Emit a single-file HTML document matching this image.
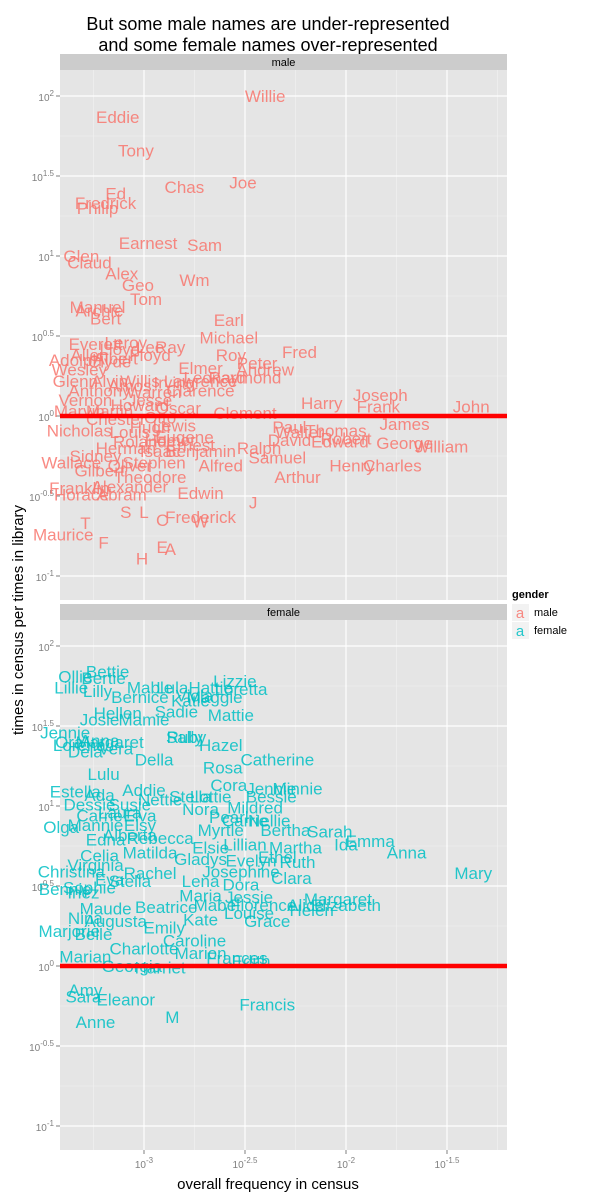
<!DOCTYPE html>
<html><head><meta charset="utf-8"><style>
body{margin:0;background:#fff}
svg{display:block;font-family:"Liberation Sans",sans-serif}
</style></head><body>
<svg id="c" width="600" height="1200">
<text x="268" y="30" text-anchor="middle" font-size="18">But some male names are under-represented</text>
<text x="268" y="51" text-anchor="middle" font-size="18">and some female names over-represented</text>
<text x="268" y="1189" text-anchor="middle" font-size="15">overall frequency in census</text>
<text transform="translate(23,620) rotate(-90)" text-anchor="middle" font-size="15">times in census per times in library</text>
<g>
<text x="512" y="598" font-size="11" font-weight="bold">gender</text>
<rect x="512" y="604" width="17" height="17" fill="#f2f2f2"/>
<text x="520" y="618" text-anchor="middle" font-size="15" fill="#F8766D" fill-opacity="0.85">a</text>
<text x="534" y="616" font-size="11">male</text>
<rect x="512" y="622" width="17" height="17" fill="#f2f2f2"/>
<text x="520" y="636" text-anchor="middle" font-size="15" fill="#00BFC4" fill-opacity="0.85">a</text>
<text x="534" y="634" font-size="11">female</text>
</g>
</svg>
<script>
const xTicks=[-3,-2.5,-2,-1.5];
const yTicks=[2,1.5,1,0.5,0,-0.5,-1];
const maleNames=["Willie","Eddie","Tony","Chas","Joe","Ed","Fredrick","Philip","Earnest","Sam","Glen","Claud","Alex","Geo","Wm","Tom","Manuel","Archie","Bert","Earl","Michael","Fred","Roy","Peter","Andrew","Raymond","Clarence","Wesley","Glenn","Harry","Joseph","Frank","John","Oscar","Thomas","James","Robert","George","Edward","William","Henry","Charles","David","Samuel","Arthur","Benjamin","Theodore","Alexander","Edwin","J","S","L","Frederick","C","W","T","Maurice","F","E","A","H","Franklin","Horace","Abram","Wallace","Gilbert","Oliver","Stephen","Ernest","Alfred","Sidney","Nicholas","Walter","Paul","Lewis","Eugene","Ralph","Vernon","Marvin","Martin","Howard","Jesse","Anthony","Alvin","Amos","Warren","Leonard","Elmer","Floyd","Lloyd","Leroy","Allen","Adolph","Albert","Ray","Lee","Clyde","Everett","Willis","Irving","Chester","Otto","Louis","Hugh","Roland","Herman","Isaac","Homer","Clement","Lawrence"];
const maleFreq=[-2.40,-3.13,-3.04,-2.80,-2.51,-3.14,-3.19,-3.23,-2.98,-2.70,-3.31,-3.27,-3.11,-3.03,-2.75,-2.99,-3.23,-3.22,-3.19,-2.58,-2.58,-2.23,-2.57,-2.44,-2.40,-2.50,-2.72,-3.32,-3.34,-2.12,-1.83,-1.84,-1.38,-2.83,-2.05,-1.71,-2.00,-1.71,-2.03,-1.53,-1.97,-1.77,-2.28,-2.34,-2.24,-2.72,-2.97,-3.07,-2.72,-2.46,-3.09,-3.00,-2.72,-2.91,-2.72,-3.29,-3.40,-3.20,-2.91,-2.87,-3.01,-3.32,-3.31,-3.11,-3.36,-3.22,-3.07,-2.95,-2.77,-2.62,-3.24,-3.32,-2.23,-2.28,-2.85,-2.80,-2.43,-3.29,-3.32,-3.17,-3.02,-2.97,-3.22,-3.17,-3.07,-2.95,-2.65,-2.72,-2.97,-3.12,-3.09,-3.27,-3.34,-3.14,-2.87,-2.97,-3.17,-3.24,-3.02,-2.85,-3.14,-2.92,-3.07,-2.97,-3.02,-3.09,-2.92,-2.87,-2.50,-2.72];
const maleRatio=[2.0,1.87,1.66,1.43,1.46,1.39,1.33,1.30,1.08,1.07,1.0,0.96,0.89,0.82,0.85,0.73,0.68,0.66,0.61,0.60,0.49,0.40,0.38,0.33,0.29,0.24,0.16,0.29,0.22,0.08,0.13,0.06,0.06,0.05,-0.09,-0.05,-0.14,-0.17,-0.16,-0.19,-0.31,-0.31,-0.15,-0.26,-0.38,-0.22,-0.38,-0.44,-0.48,-0.54,-0.60,-0.60,-0.63,-0.65,-0.66,-0.67,-0.74,-0.79,-0.82,-0.83,-0.89,-0.45,-0.49,-0.49,-0.29,-0.34,-0.31,-0.29,-0.18,-0.31,-0.25,-0.09,-0.10,-0.07,-0.06,-0.13,-0.20,0.10,0.03,0.03,0.07,0.10,0.16,0.22,0.19,0.15,0.24,0.30,0.38,0.42,0.46,0.38,0.35,0.36,0.43,0.43,0.34,0.45,0.22,0.21,-0.02,-0.01,-0.10,-0.07,-0.16,-0.20,-0.22,-0.15,0.02,0.22];
const femaleNames=["Ollie","Bettie","Bertie","Lillie","Lilly","Mable","Lula","Hattie","Lizzie","Loretta","Maggie","Bernice","Katie","Viola","Sadie","Mattie","Hellen","Josie","Mamie","Jennie","Anna","Sally","Ruby","Hazel","Margaret","Ora","Lorena","Vera","Dela","Della","Catherine","Lulu","Rosa","Cora","Jennie","Minnie","Estella","Ada","Addie","Stella","Bessie","Lottie","Dessie","Susie","Nettie","Nora","Mildred","Carrie","Laura","Elva","Pearl","Carrie","Nellie","Olga","Mannie","Elsy","Myrtle","Bertha","Sarah","Alberta","Rebecca","Ida","Emma","Anna","Martha","Elsie","Lillian","Matilda","Edna","Celia","Ruth","Gladys","Evelyn","Ethel","Christina","Virginia","Josephine","Clara","Rachel","Sophie","Bennie","Inez","Stella","Eva","Lena","Dora","Maria","Jessie","Mary","Margaret","Elizabeth","Helen","Alice","Florence","Mabel","Grace","Louise","Kate","Nina","Maude","Beatrice","Augusta","Marjorie","Belle","Emily","Caroline","Charlotte","Marion","Frances","Marian","Georgia","Harriet","Edith","Amy","Sara","Eleanor","Anne","M","Francis"];
const femaleFreq=[-3.34,-3.18,-3.20,-3.36,-3.23,-2.97,-2.86,-2.67,-2.55,-2.52,-2.65,-3.02,-2.77,-2.75,-2.84,-2.57,-3.13,-3.22,-3.00,-3.39,-3.22,-2.80,-2.79,-2.62,-3.17,-3.37,-3.32,-3.14,-3.29,-2.95,-2.34,-3.20,-2.61,-2.58,-2.37,-2.24,-3.34,-3.22,-3.00,-2.77,-2.37,-2.67,-3.27,-3.07,-2.92,-2.72,-2.45,-3.22,-3.12,-3.02,-2.58,-2.50,-2.38,-3.41,-3.24,-3.02,-2.62,-2.30,-2.08,-3.07,-2.92,-2.00,-1.88,-1.70,-2.25,-2.67,-2.50,-2.97,-3.19,-3.22,-2.24,-2.72,-2.47,-2.34,-3.36,-3.24,-2.52,-2.27,-2.97,-3.27,-3.39,-3.30,-3.07,-3.17,-2.72,-2.52,-2.72,-2.48,-1.37,-2.04,-2.00,-2.17,-2.20,-2.41,-2.64,-2.39,-2.48,-2.72,-3.29,-3.19,-2.89,-3.14,-3.37,-3.25,-2.90,-2.75,-3.00,-2.72,-2.54,-3.29,-3.06,-2.92,-2.47,-3.29,-3.30,-3.09,-3.24,-2.86,-2.39];
const femaleRatio=[1.81,1.84,1.80,1.74,1.72,1.74,1.74,1.74,1.78,1.73,1.68,1.68,1.66,1.69,1.59,1.57,1.58,1.54,1.54,1.46,1.41,1.43,1.43,1.38,1.40,1.40,1.38,1.36,1.34,1.29,1.29,1.20,1.24,1.13,1.11,1.11,1.09,1.07,1.10,1.06,1.06,1.06,1.01,1.01,1.04,0.98,0.99,0.94,0.96,0.94,0.93,0.91,0.91,0.87,0.88,0.88,0.85,0.85,0.84,0.82,0.80,0.76,0.78,0.71,0.74,0.74,0.76,0.71,0.79,0.69,0.65,0.67,0.66,0.68,0.59,0.63,0.59,0.55,0.58,0.49,0.48,0.46,0.53,0.54,0.53,0.51,0.44,0.43,0.58,0.42,0.38,0.35,0.38,0.38,0.38,0.28,0.33,0.29,0.30,0.36,0.37,0.28,0.22,0.20,0.24,0.16,0.11,0.08,0.05,0.06,0.00,-0.01,0.03,-0.15,-0.19,-0.21,-0.35,-0.32,-0.24];

const NS="http://www.w3.org/2000/svg";
const svg=document.getElementById('c');
const PX0=60,PX1=507;
const xs=v=>144+(v+3)*202;
function mk(tag,attrs,parent){const e=document.createElementNS(NS,tag);for(const k in attrs)e.setAttribute(k,attrs[k]);(parent||svg).appendChild(e);return e;}
function sup(t,base,exp){const a=document.createElementNS(NS,'tspan');a.textContent=base;t.appendChild(a);const b=document.createElementNS(NS,'tspan');b.setAttribute('dy','-5');b.setAttribute('font-size','8');b.textContent=exp;t.appendChild(b);}

function panel(name,top,names,fx,fy,color,showX){
  const bottom=top+530, y0=top+346;
  const ys=v=>y0-v*160;
  const g=mk('g',{});
  
  
  const strip=mk('rect',{x:PX0,y:top-16,width:PX1-PX0,height:16,fill:'#cccccc'},g);
  
  
  const st=mk('text',{x:(PX0+PX1)/2,y:top-4,'text-anchor':'middle','font-size':11},g);
  st.textContent=name;
  
  
  const bg=mk('rect',{x:PX0,y:top,width:PX1-PX0,height:530,fill:'#e5e5e5'},g);
  
  
  for(let i=0;i<yTicks.length-1;i++){const m=(yTicks[i]+yTicks[i+1])/2;
    const l=mk('line',{x1:PX0,x2:PX1,y1:ys(m),y2:ys(m),stroke:'#f2f2f2','stroke-width':0.6},g);
    }
  [-3.25,-2.75,-2.25,-1.75,-1.25].forEach(m=>{
    const l=mk('line',{x1:xs(m),x2:xs(m),y1:top,y2:bottom,stroke:'#f2f2f2','stroke-width':0.6},g);
    });
  yTicks.forEach(v=>{
    const l=mk('line',{x1:PX0,x2:PX1,y1:ys(v),y2:ys(v),stroke:'#fff','stroke-width':1.2},g);
    
    const tk=mk('line',{x1:PX0-4,x2:PX0,y1:ys(v),y2:ys(v),stroke:'#7f7f7f'},g);
    
    const t=mk('text',{x:PX0-6,y:ys(v)+5,'text-anchor':'end','font-size':10,fill:'#7f7f7f'},g);
    sup(t,'10',String(v));
    
  });
  xTicks.forEach(v=>{
    const l=mk('line',{x1:xs(v),x2:xs(v),y1:top,y2:bottom,stroke:'#fff','stroke-width':1.2},g);
    
    if(showX){
      const tk=mk('line',{x1:xs(v),x2:xs(v),y1:bottom,y2:bottom+4,stroke:'#7f7f7f'},g);
      
      const t=mk('text',{x:xs(v),y:bottom+18,'text-anchor':'middle','font-size':10,fill:'#7f7f7f'},g);
      sup(t,'10',String(v));
      
    }
  });
  names.forEach((n,i)=>{
    const t=mk('text',{x:xs(fx[i]),y:ys(fy[i])+6,'text-anchor':'middle','font-size':17,fill:color,'fill-opacity':0.85},g);
    t.textContent=n;
    
    
  });
  const r=mk('line',{x1:PX0,x2:PX1,y1:ys(0),y2:ys(0),stroke:'#ff0000','stroke-width':4.5},g);
  
  
}
panel('male',70,maleNames,maleFreq,maleRatio,'#F8766D',false);
panel('female',620,femaleNames,femaleFreq,femaleRatio,'#00BFC4',true);
</script>
</body></html>
